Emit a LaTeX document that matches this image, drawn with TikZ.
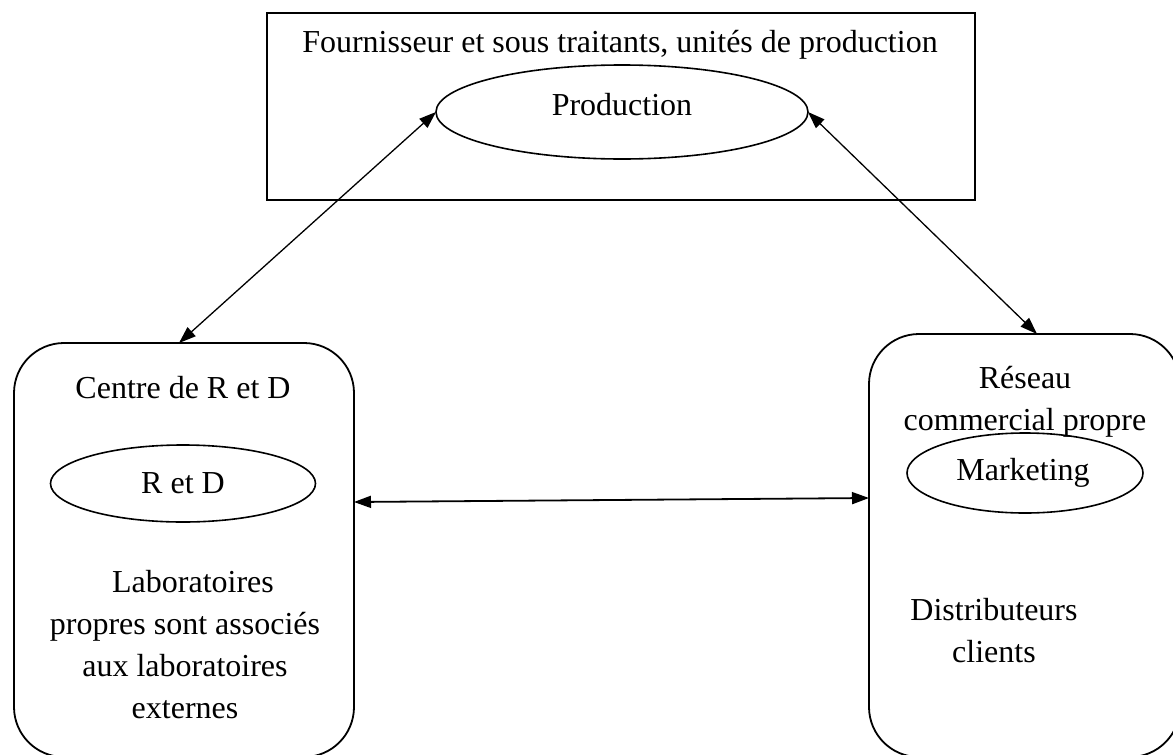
\documentclass[tikz,border=0pt]{standalone}
\usepackage{fontspec}
\setmainfont{Liberation Serif}
\usetikzlibrary{arrows.meta,shapes.geometric}
\begin{document}
\begin{tikzpicture}[x=1pt,y=-1pt,
  txt/.style={font=\fontsize{32}{42}\selectfont, inner sep=0pt, outer sep=0pt},
  frame/.style={draw, line width=1.8pt, inner sep=0pt, outer sep=0pt},
  roundbox/.style={frame, rounded corners=50pt},
  oval/.style={draw, ellipse, line width=1.6pt, inner sep=0pt, outer sep=0pt},
  link/.style={line width=1.3pt, {Triangle[length=17pt,width=12pt]}-{Triangle[length=17pt,width=12pt]}}]
\useasboundingbox (0,0) rectangle (1173,755);
\clip (0,0) rectangle (1173,755);

% production block
\node[frame, minimum width=708pt, minimum height=187pt] (prodbox) at (621,106.5) {};
\node[txt, anchor=base] (prodtitle) at (620,52) {Fournisseur et sous traitants, unités de production};
\node[oval, minimum width=372pt, minimum height=94pt] (prod) at (622,112) {};
\node[txt, anchor=base] (prodlabel) at (622,115) {Production};

% R and D block (multi-line texts are anchored on their last baseline)
\node[roundbox, minimum width=340pt, minimum height=414pt] (lbox) at (184,550) {};
\node[txt, anchor=base] (ltitle) at (183,398) {Centre de R et D};
\node[oval, minimum width=265pt, minimum height=77pt] (rd) at (183,483.5) {};
\node[txt, anchor=base] (rdlabel) at (183,493) {R et D};
\node[txt, anchor=base, align=center] (labs) at (185,718)
  {\hspace*{16pt}Laboratoires\\propres sont associés\\aux laboratoires\\externes};

% marketing block
\node[roundbox, minimum width=311pt, minimum height=423pt] (rbox) at (1024.5,545.5) {};
\node[txt, anchor=base, align=center] (rtitle) at (1025,430) {Réseau\\commercial propre};
\node[oval, minimum width=236pt, minimum height=80pt] (mk) at (1025,473) {};
\node[txt, anchor=base] (mklabel) at (1023,480) {Marketing};
\node[txt, anchor=base, align=center] (dist) at (994,662) {Distributeurs\\clients};

% links
\draw[link] (prod.west) -- ([xshift=-5pt]lbox.north);
\draw[link] (prod.east) -- ([xshift=12.5pt]rbox.north);
\draw[link, line width=1.8pt] ([yshift=48pt]lbox.east) -- ([yshift=47.5pt]rbox.west);
\end{tikzpicture}
\end{document}
